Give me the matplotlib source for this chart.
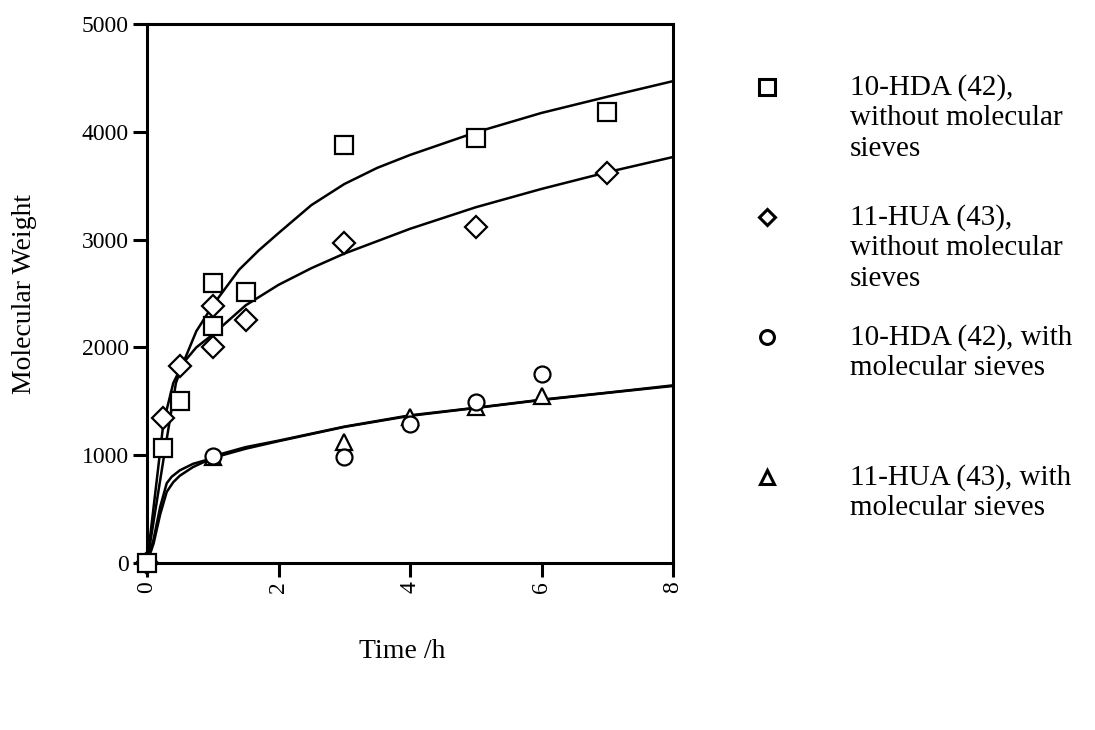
import matplotlib
matplotlib.use("Agg")
import matplotlib.pyplot as plt
from matplotlib.lines import Line2D

plt.rcParams['font.family'] = ['Liberation Serif', 'DejaVu Serif']

# Measured molecular weight vs. time
t_hda_no = [0, 0.25, 0.5, 1, 1, 1.5, 3, 5, 7]
mw_hda_no = [0, 1070, 1500, 2200, 2600, 2510, 3880, 3940, 4180]

t_hua_no = [0, 0.25, 0.5, 1, 1, 1.5, 3, 5, 7]
mw_hua_no = [0, 1345, 1825, 2000, 2380, 2250, 2965, 3120, 3615]

t_hda_ms = [0, 1, 3, 4, 5, 6]
mw_hda_ms = [0, 995, 980, 1285, 1495, 1750]

t_hua_ms = [0, 1, 3, 4, 5, 6]
mw_hua_ms = [0, 985, 1120, 1350, 1445, 1545]

# Fitted trend curves
fit_t_hda_no = [0, 0.15, 0.3, 0.44, 0.55, 0.75, 1, 1.4, 1.7, 2, 2.5, 3, 3.5,
                4, 5, 6, 7, 8]
fit_mw_hda_no = [0, 575, 1150, 1670, 1855, 2150, 2390, 2720, 2900, 3060, 3320,
                 3515, 3665, 3785, 3995, 4175, 4325, 4470]

fit_t_hua_no = [0, 0.12, 0.25, 0.4, 0.55, 0.75, 1, 1.5, 2, 2.5, 3, 4, 5, 6, 7, 8]
fit_mw_hua_no = [0, 620, 1300, 1670, 1855, 2000, 2120, 2390, 2580, 2735, 2870,
                 3100, 3300, 3470, 3625, 3766]

fit_t_hda_ms = [0, 0.1, 0.2, 0.3, 0.4, 0.5, 0.7, 1, 1.5, 2, 3, 4, 5, 6, 7, 8]
fit_mw_hda_ms = [0, 180, 450, 660, 750, 810, 890, 975, 1060, 1130, 1262, 1365,
                 1438, 1512, 1578, 1642]

fit_t_hua_ms = [0, 0.1, 0.2, 0.3, 0.375, 0.5, 0.7, 0.9, 1, 1.5, 2, 3, 4, 5, 6, 7, 8]
fit_mw_hua_ms = [0, 220, 520, 740, 800, 860, 920, 955, 990, 1075, 1135, 1265,
                 1370, 1440, 1515, 1580, 1648]

legend_labels = [
    "10-HDA (42),\nwithout molecular\nsieves",
    "11-HUA (43),\nwithout molecular\nsieves",
    "10-HDA (42), with\nmolecular sieves",
    "11-HUA (43), with\nmolecular sieves",
]

x_ticks = [0, 2, 4, 6, 8]
y_ticks = [0, 1000, 2000, 3000, 4000, 5000]

W, H = 1095, 730
fig = plt.figure(figsize=(W / 100, H / 100), dpi=100)
ax = fig.add_axes([147 / W, 1 - 563 / H, (673 - 147) / W, (563 - 24) / H])

lw = 1.8
for tx, my in [(fit_t_hda_ms, fit_mw_hda_ms), (fit_t_hua_ms, fit_mw_hua_ms),
               (fit_t_hua_no, fit_mw_hua_no), (fit_t_hda_no, fit_mw_hda_no)]:
    ax.plot(tx, my, color='black', lw=lw, solid_joinstyle='round',
            solid_capstyle='round', zorder=2)

mk = dict(linestyle='none', markerfacecolor='white', markeredgecolor='black',
          markeredgewidth=1.6, clip_on=False, zorder=3)
ax.plot(t_hua_ms, mw_hua_ms, marker='^', markersize=11, **mk)
ax.plot(t_hda_ms, mw_hda_ms, marker='o', markersize=11.5, **mk)
ax.plot(t_hua_no, mw_hua_no, marker='D', markersize=11.5, **mk)
ax.plot(t_hda_no, mw_hda_no, marker='s', markersize=12.5, **mk)

ax.set_xlim(0, 8)
ax.set_ylim(0, 5000)
ax.set_xticks(x_ticks)
ax.set_yticks(y_ticks)
ax.set_xticklabels([str(v) for v in x_ticks])
ax.set_yticklabels([str(v) for v in y_ticks])
ax.tick_params(axis='both', direction='out', length=10, width=2.2,
               labelsize=17, pad=3)
ax.tick_params(axis='x', labelrotation=90)
for s in ax.spines.values():
    s.set_linewidth(2.2)

fig.text(25 / W, 1 - 294 / H, "Molecular Weight", rotation=90,
         ha='center', va='center', fontsize=20)
fig.text(402 / W, 1 - 652 / H, "Time /h", ha='center', va='center', fontsize=20)

# Legend drawn beside the axes
leg_marker_x = 767 / W
leg_text_x = 850 / W
leg_rows_y = [87, 217, 337, 477]
leg_markers = [('s', 11), ('D', 8.5), ('o', 10), ('^', 10)]
for (m, ms), ypix, label in zip(leg_markers, leg_rows_y, legend_labels):
    fig.add_artist(Line2D([leg_marker_x], [1 - ypix / H], marker=m,
                          markersize=ms, markerfacecolor='white',
                          markeredgecolor='black', markeredgewidth=2.2,
                          linestyle='none', transform=fig.transFigure))
    fig.text(leg_text_x, 1 - (ypix - 13) / H, label, ha='left', va='top',
             fontsize=21, linespacing=1.22)

fig.savefig("out.png", dpi=100)
